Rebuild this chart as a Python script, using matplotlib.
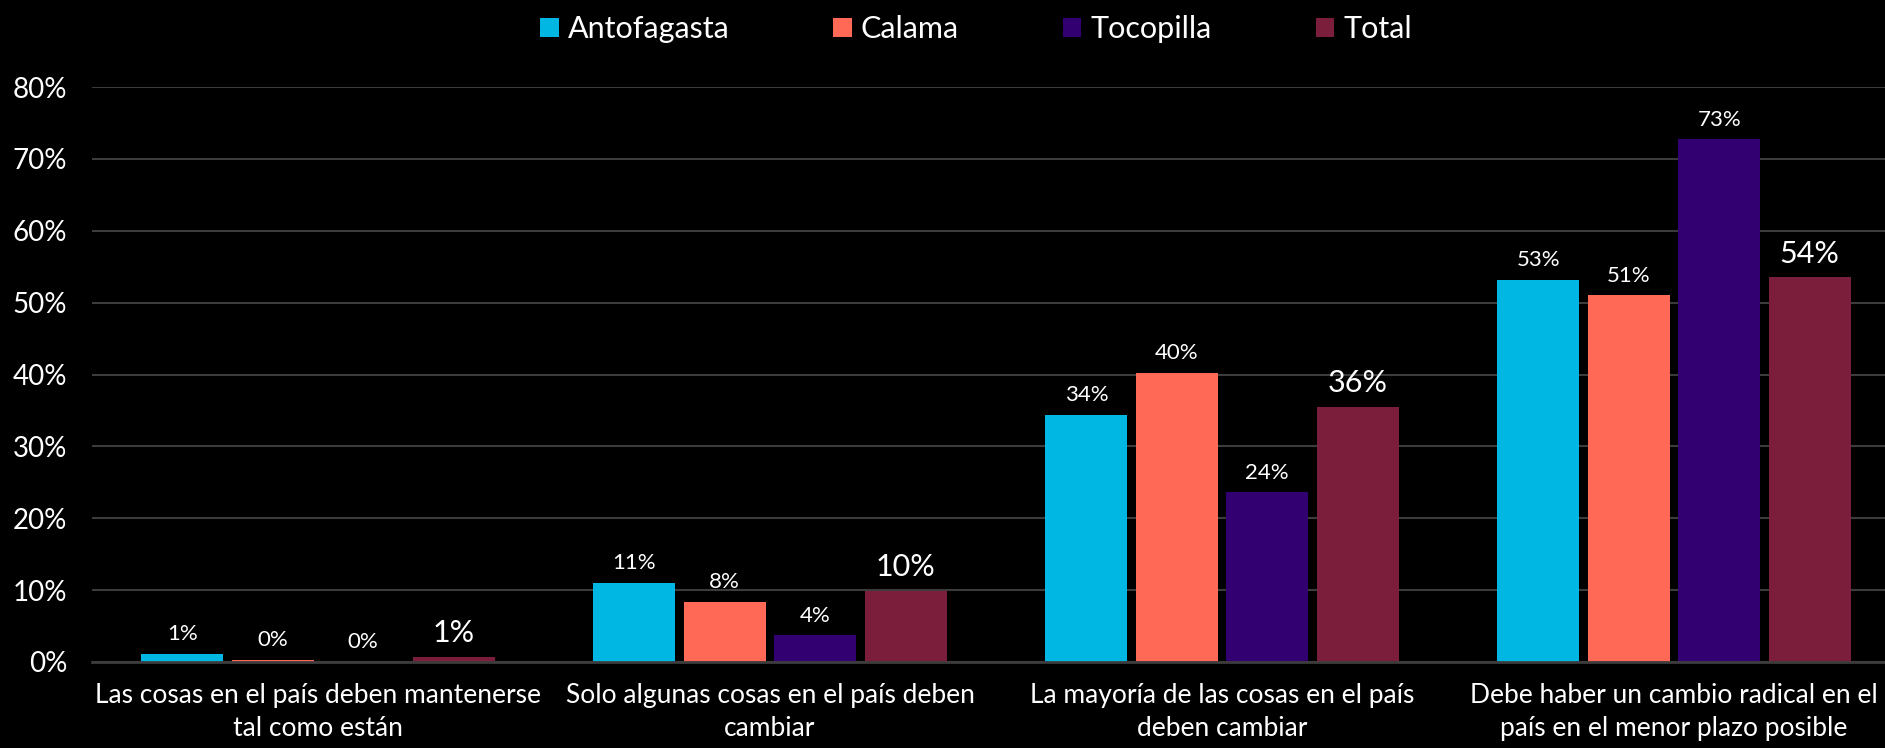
import matplotlib
matplotlib.use("Agg")
import numpy as np
import matplotlib.pyplot as plt
from matplotlib.patches import Patch
from matplotlib.ticker import FuncFormatter

# datos (porcentaje)
categorias = [
    "Las cosas en el país deben mantenerse\ntal como están",
    "Solo algunas cosas en el país deben\ncambiar",
    "La mayoría de las cosas en el país\ndeben cambiar",
    "Debe haber un cambio radical en el\npaís en el menor plazo posible",
]
series = ["Antofagasta", "Calama", "Tocopilla", "Total"]
antofagasta = [1.1, 11.0, 34.4, 53.2]
calama = [0.3, 8.4, 40.2, 51.0]
tocopilla = [0.0, 3.7, 23.6, 72.7]
total = [0.7, 9.9, 35.5, 53.5]
colores = ["#00B7E4", "#FF6955", "#330072", "#7A1E3C"]

plt.rcParams["font.family"] = ["Lato", "DejaVu Sans"]

fig = plt.figure(figsize=(18.85, 7.48), dpi=100, facecolor="black")
ax = fig.add_axes([92 / 1885, 1 - 662 / 748, 1 - 92 / 1885, (662 - 87) / 748])
ax.set_facecolor("black")

x = np.arange(len(categorias))
paso = 0.2
ancho = 0.181
valores = [antofagasta, calama, tocopilla, total]

for i, (nombre, vals, col) in enumerate(zip(series, valores, colores)):
    pos = x + (i - 1.5) * paso
    ax.bar(pos, vals, width=ancho, color=col, zorder=3)
    tam = 22 if nombre == "Total" else 16
    for xp, v in zip(pos, vals):
        ax.annotate(f"{v:.0f}%", (xp, v), xytext=(0, 7), textcoords="offset points",
                    ha="center", va="bottom", color="white", fontsize=tam)

ax.set_ylim(0, 80)
ax.set_xlim(-0.5, 3.5 - 15 / 452)
ax.set_yticks(np.arange(0, 81, 10))
ax.yaxis.set_major_formatter(FuncFormatter(lambda v, _: f"{v:.0f}%"))
ax.set_xticks(x)
ax.set_xticklabels(categorias, linespacing=1.4)
ax.tick_params(axis="y", length=0, pad=18, labelsize=20, labelcolor="white")
ax.tick_params(axis="x", length=0, pad=15, labelsize=19, labelcolor="white")
ax.grid(axis="y", color="#3c3c3c", linewidth=1.5, zorder=0)
for lado in ["top", "right", "left"]:
    ax.spines[lado].set_visible(False)
ax.spines["bottom"].set_color("#3c3c3c")
ax.spines["bottom"].set_linewidth(2)
ax.spines["bottom"].set_zorder(4)

manijas = [Patch(facecolor=c, edgecolor="none") for c in colores]
fig.legend(manijas, series, loc="center", bbox_to_anchor=(976 / 1885, 1 - 29 / 748),
           ncol=4, frameon=False, fontsize=22, labelcolor="white",
           handlelength=0.6, handleheight=0.6, handletextpad=0.3, columnspacing=3.4)

fig.savefig("out.png", dpi=100, facecolor="black")
